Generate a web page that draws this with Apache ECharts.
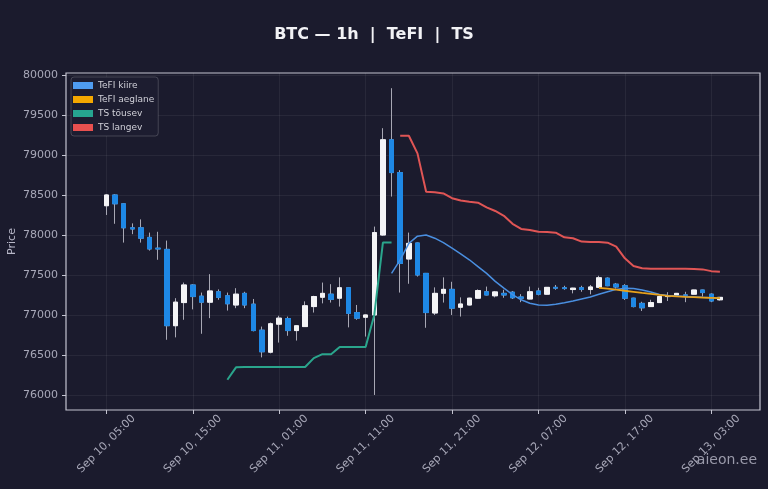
<!DOCTYPE html>
<html><head><meta charset="utf-8">
<script src="https://cdn.jsdelivr.net/npm/echarts@6/dist/echarts.min.js"></script>
<style>html,body{margin:0;padding:0;background:#1b1b2d;}#c{width:768px;height:489px;}</style>
</head><body><div id="c"></div>
<script>
// hours since Sep 10 00:00
const hours = [5,6,7,8,9,10,11,12,13,14,15,16,17,18,19,20,21,22,23,24,25,26,27,28,29,30,31,32,33,34,35,36,37,38,39,40,41,42,43,44,45,46,47,48,49,50,51,52,53,54,55,56,57,58,59,60,61,62,63,64,65,66,67,68,69,70,71,72,73,74,75,76];
const opens  = [78366,78500,78390,78090,78090,77970,77835,77820,76866,77155,77375,77235,77160,77290,77240,77125,77270,77135,76810,76535,76885,76955,76805,76855,77105,77222,77260,77210,77340,77030,76972,77000,78000,79190,78780,77700,77900,77520,77025,77272,77320,77097,77125,77210,77290,77240,77270,77285,77225,77200,77300,77260,77345,77340,77318,77340,77318,77346,77460,77385,77365,77210,77145,77105,77155,77230,77250,77250,77260,77312,77260,77190];
const closes = [78500,78390,78090,78075,77960,77825,77825,76866,77160,77375,77230,77160,77300,77220,77140,77260,77125,76805,76540,76890,76960,76805,76865,77115,77230,77270,77195,77340,77020,76960,77000,78030,79190,78780,77645,77895,77500,77030,77270,77320,77085,77137,77210,77305,77250,77288,77250,77215,77210,77290,77260,77345,77335,77330,77335,77320,77350,77465,77366,77350,77210,77105,77090,77155,77230,77232,77270,77248,77312,77280,77175,77220];
const lows   = [78250,78140,77905,78010,77905,77805,77690,76690,76720,76940,77070,76765,76960,77190,77055,77085,77085,76795,76470,76520,76655,76740,76680,76850,77030,77145,77155,77105,76845,76940,76730,76000,77990,78480,77280,77390,77480,76840,77000,77155,77000,76980,77120,77200,77245,77220,77215,77200,77160,77195,77245,77255,77315,77315,77270,77290,77258,77340,77360,77330,77188,77095,77050,77100,77150,77175,77245,77160,77255,77230,77160,77180];
const highs  = [78510,78510,78400,78145,78195,78030,78040,77930,77210,77405,77385,77280,77510,77320,77280,77335,77290,77200,76855,76905,76990,76980,76870,77170,77240,77405,77385,77470,77345,77125,77005,78105,79335,79835,78810,78030,77905,77525,77345,77470,77415,77220,77215,77320,77355,77300,77315,77300,77260,77355,77340,77350,77375,77365,77340,77365,77375,77490,77470,77400,77385,77215,77165,77190,77240,77285,77275,77290,77315,77315,77270,77225];

const fastHours = [38,39,40,41,42,43,44,45,46,47,48,49,50,51,52,53,54,55,56,57,58,59,60,61,62,63,64,65,66,67,68,69,70,71,72,73,74,75,76];
const fastVals  = [77520,77690,77895,77985,78000,77960,77905,77835,77765,77690,77605,77520,77420,77335,77255,77190,77146,77125,77122,77135,77152,77175,77200,77225,77258,77290,77320,77334,77330,77313,77288,77255,77245,77238,77230,77225,77220,77216,77210];
const slowHours = [62,63,64,65,66,67,68,69,70,71,72,73,74,75,76];
const slowVals  = [77338,77330,77318,77303,77290,77275,77265,77250,77240,77232,77226,77222,77218,77214,77210];
const tsUpHours = [19,20,21,22,23,24,25,26,27,28,29,30,31,32,33,34,35,36,37,38];
const tsUpVals  = [76190,76345,76350,76350,76350,76350,76350,76350,76350,76350,76460,76510,76510,76600,76600,76600,76600,77000,77905,77905];
const tsDnHours = [39,40,41,42,43,44,45,46,47,48,49,50,51,52,53,54,55,56,57,58,59,60,61,62,63,64,65,66,67,68,69,70,71,72,73,74,75,76];
const tsDnVals  = [79240,79240,79020,78540,78535,78520,78460,78430,78416,78404,78345,78300,78240,78140,78075,78063,78041,78038,78029,77971,77959,77917,77913,77913,77904,77854,77708,77613,77584,77578,77578,77578,77578,77578,77576,77570,77548,77540];

const xTickHours = [5,15,25,35,45,55,65,75];
const yTicks = [76000,76500,77000,77500,78000,78500,79000,79500,80000];

const FONT = 'DejaVu Sans';
const pad = n => (n < 10 ? '0' : '') + n;
const fmtHour = h => 'Sep ' + (10 + Math.floor(h / 24)) + ', ' + pad(h % 24) + ':00';
const zip = (xs, ys) => xs.map((x, i) => [x, ys[i]]);

const wickData = hours.map((h, i) => [h, opens[i], closes[i], lows[i], highs[i]]);
const bodyData = hours.map((h, i) => [h, opens[i], closes[i], Math.min(opens[i], closes[i]), Math.max(opens[i], closes[i])]);

const chart = echarts.init(document.getElementById('c'), null, {renderer: 'canvas'});
chart.setOption({
  animation: false,
  backgroundColor: '#1b1b2d',
  title: {
    text: 'BTC — 1h  |  TeFI  |  TS',
    left: 369, top: 22, textAlign: 'center',
    textStyle: {color: '#f2f2f5', fontFamily: FONT, fontWeight: 'bold', fontSize: 16}
  },
  legend: {
    orient: 'vertical', left: 71, top: 77,
    data: ['TeFI kiire', 'TeFI aeglane', 'TS tõusev', 'TS langev'],
    icon: 'rect', itemWidth: 20, itemHeight: 7, itemGap: 5,
    padding: [4, 4, 4, 2],
    backgroundColor: '#1d1d30', borderColor: 'rgba(255,255,255,0.18)', borderWidth: 1, borderRadius: 3,
    textStyle: {color: '#d0d0d8', fontFamily: FONT, fontSize: 9}
  },
  grid: {left: 66, right: 8, top: 73, bottom: 79, outerBoundsMode: 'none', containLabel: false,
         show: true, borderColor: '#c4c4d0', borderWidth: 1.2, backgroundColor: 'transparent'},
  xAxis: {
    type: 'value', min: 0.325, max: 80.64,
    axisLine: {show: false},
    axisTick: {show: true, customValues: xTickHours, length: 4, lineStyle: {color: '#c4c4d0'}},
    axisLabel: {customValues: xTickHours, formatter: v => fmtHour(v), rotate: 45, align: 'center', verticalAlign: 'middle', margin: 34, color: '#a8a8b8', fontFamily: FONT, fontSize: 11},
    splitLine: {show: true, lineStyle: {color: 'rgba(255,255,255,0.06)', width: 1}}
  },
  yAxis: {
    type: 'value', min: 75812, max: 80025, scale: true,
    name: 'Price', nameLocation: 'middle', nameGap: 48, nameRotate: 90, nameMoveOverlap: false,
    nameTextStyle: {color: '#b8b8c8', fontFamily: FONT, fontSize: 11},
    axisLine: {show: false},
    axisTick: {show: true, customValues: yTicks, length: 4, lineStyle: {color: '#c4c4d0'}},
    axisLabel: {customValues: yTicks, formatter: v => String(v), margin: 8, color: '#a8a8b8', fontFamily: FONT, fontSize: 11},
    splitLine: {show: true, lineStyle: {color: 'rgba(255,255,255,0.06)', width: 1}}
  },
  graphic: [{
    type: 'text', right: 11, top: 453,
    style: {text: 'aieon.ee', fill: '#9a9aaa', font: '14px "DejaVu Sans"'}
  }],
  series: [
    {
      type: 'candlestick', name: 'wick', data: wickData, encode: {x: 0, y: [1, 2, 3, 4]},
      barWidth: 5, z: 2,
      itemStyle: {color: '#a8a8b4', color0: '#a8a8b4', borderColor: '#a8a8b4', borderColor0: '#a8a8b4', borderColorDoji: '#a8a8b4', borderWidth: 1}
    },
    {
      type: 'candlestick', name: 'body', data: bodyData, encode: {x: 0, y: [1, 2, 3, 4]},
      barWidth: 5, z: 3,
      itemStyle: {color: '#f4f4f6', color0: '#1e88e5', borderColor: '#f4f4f6', borderColor0: '#1e88e5', borderColorDoji: '#1e88e5', borderWidth: 1}
    },
    {name: 'TeFI kiire', type: 'line', data: zip(fastHours, fastVals), showSymbol: false, z: 4,
     color: '#4f9cf0', lineStyle: {color: '#4a8fe0', width: 1.5}},
    {name: 'TeFI aeglane', type: 'line', data: zip(slowHours, slowVals), showSymbol: false, z: 4,
     color: '#f5a800', lineStyle: {color: '#e9a21a', width: 1.8}},
    {name: 'TS tõusev', type: 'line', data: zip(tsUpHours, tsUpVals), showSymbol: false, z: 4,
     color: '#26a690', lineStyle: {color: '#2aa58c', width: 2}},
    {name: 'TS langev', type: 'line', data: zip(tsDnHours, tsDnVals), showSymbol: false, z: 4,
     color: '#e8504f', lineStyle: {color: '#e05555', width: 2}}
  ]
});
</script></body></html>
